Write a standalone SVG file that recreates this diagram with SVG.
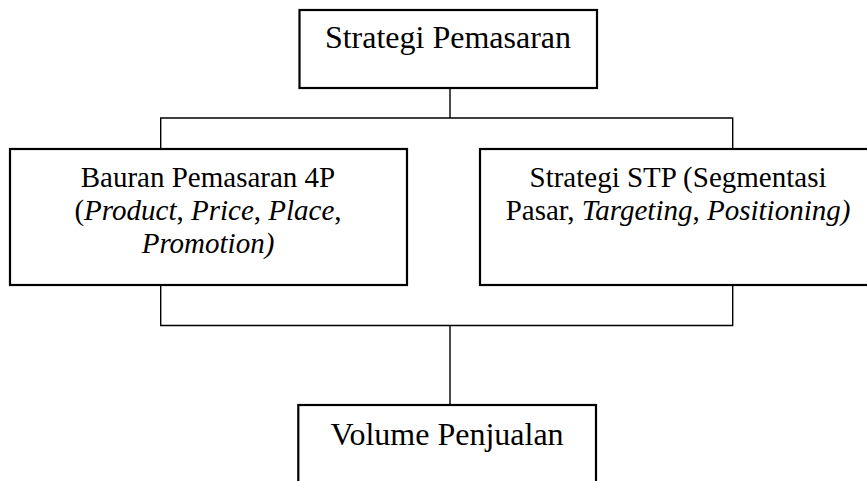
<svg xmlns="http://www.w3.org/2000/svg" width="867" height="481" viewBox="0 0 867 481">
<style>
.box{fill:#fff;stroke:#000;stroke-width:2.2}
.con{fill:none;stroke:#000;stroke-width:1.4}
text{font-family:"Liberation Serif","Times New Roman",serif;fill:#000;text-anchor:middle}
.big{font-size:32px}
.mid{font-size:29px}
.i{font-style:italic}
</style>
<rect width="867" height="481" fill="#fff"/>
<g id="connectors">
<path class="con" d="M450 88V118M160.7 149V118H732.7V149"/>
<path class="con" d="M160.7 285V325.5H732.7V285M450 325.5V405"/>
</g>
<g id="strategi-pemasaran">
<rect class="box" x="299.5" y="10" width="297.5" height="78"/>
<text class="big" x="448" y="48">Strategi Pemasaran</text>
</g>
<g id="bauran-pemasaran">
<rect class="box" x="10" y="149" width="397" height="136"/>
<text class="mid" x="208" y="187">Bauran Pemasaran 4P</text>
<text class="mid" x="208" y="220">(<tspan class="i">Product</tspan>, <tspan class="i">Price</tspan>, <tspan class="i">Place</tspan>,</text>
<text class="mid i" x="208" y="253">Promotion)</text>
</g>
<g id="strategi-stp">
<rect class="box" x="480" y="149" width="396" height="136"/>
<text class="mid" x="678" y="187">Strategi STP (Segmentasi</text>
<text class="mid" x="678" y="220">Pasar, <tspan class="i">Targeting</tspan>, <tspan class="i">Positioning)</tspan></text>
</g>
<g id="volume-penjualan">
<rect class="box" x="298.3" y="405" width="297.7" height="90"/>
<text class="big" x="447" y="445">Volume Penjualan</text>
</g>
</svg>
